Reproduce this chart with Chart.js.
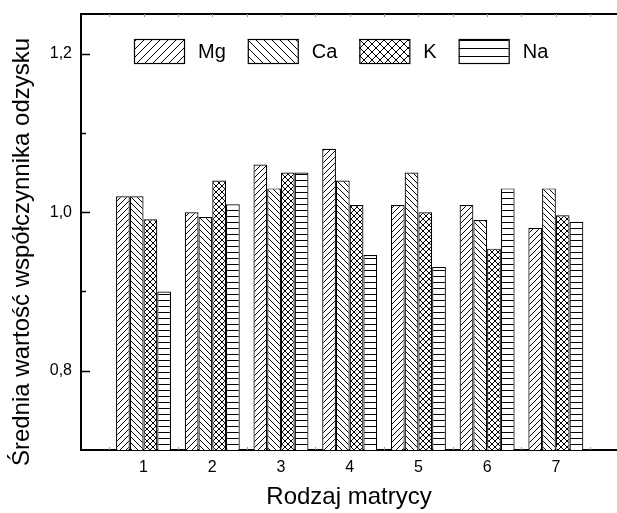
<!DOCTYPE html>
<html>
<head>
<meta charset="utf-8">
<script src="https://cdn.jsdelivr.net/npm/chart.js@4"></script>
<style>
  html, body { margin: 0; padding: 0; background: #fff; }
  #wrap { width: 617px; height: 513px; position: relative; }
</style>
</head>
<body>
<div id="wrap"><canvas id="chart"></canvas></div>
<script>
// Rodzaj matrycy 1..7
const categories = ["1", "2", "3", "4", "5", "6", "7"];
const mg = [1.020, 1.000, 1.060, 1.080, 1.009, 1.009, 0.980];
const ca = [1.020, 0.994, 1.030, 1.040, 1.050, 0.990, 1.030];
const k  = [0.991, 1.040, 1.050, 1.009, 1.000, 0.954, 0.996];
const na = [0.900, 1.010, 1.050, 0.946, 0.931, 1.030, 0.988];

const yTicks = [0.8, 1.0, 1.2];
const yMinorTicks = [0.9, 1.1];
const yTitle = "Średnia wartość współczynnika odzysku";

const FONT = "'Liberation Sans', Arial, sans-serif";

// hatch fills, white ground with black lines
const makePattern = (kind, s) => {
    const c = document.createElement("canvas");
    c.width = s;
    c.height = s;
    const g = c.getContext("2d");
    g.fillStyle = "#fff";
    g.fillRect(0, 0, s, s);
    g.strokeStyle = "#000";
    g.lineWidth = 1;
    g.beginPath();
    if (kind === "fwd" || kind === "cross") {
        g.moveTo(-1, s + 1); g.lineTo(s + 1, -1);
        g.moveTo(-1, 1); g.lineTo(1, -1);
        g.moveTo(s - 1, s + 1); g.lineTo(s + 1, s - 1);
    }
    if (kind === "back" || kind === "cross") {
        g.moveTo(-1, -1); g.lineTo(s + 1, s + 1);
        g.moveTo(-1, s - 1); g.lineTo(1, s + 1);
        g.moveTo(s - 1, -1); g.lineTo(s + 1, 1);
    }
    if (kind === "horiz") {
        g.moveTo(0, 0.5); g.lineTo(s, 0.5);
    }
    g.stroke();
    return g.createPattern(c, "repeat");
};

const toPoints = values => values.map((v, i) => ({x: Number(categories[i]), y: v}));

const series = [
    {label: "Mg", data: mg, kind: "fwd"},
    {label: "Ca", data: ca, kind: "back"},
    {label: "K", data: k, kind: "cross"},
    {label: "Na", data: na, kind: "horiz"}
];

// frame, inward ticks, legend inside the plot and the y title
const frame = {
    id: "frame",
    afterDraw(chart) {
        const {ctx, chartArea: a, scales: {x, y}} = chart;
        ctx.save();
        ctx.strokeStyle = "#000";
        ctx.lineWidth = 2;
        ctx.beginPath();
        ctx.moveTo(a.left - 1, a.top);
        ctx.lineTo(a.right, a.top);
        ctx.stroke();

        ctx.lineWidth = 1.5;
        ctx.beginPath();
        yTicks.forEach(v => {
            const py = Math.round(y.getPixelForValue(v)) + 0.5;
            ctx.moveTo(a.left, py);
            ctx.lineTo(a.left + 9, py);
        });
        yMinorTicks.forEach(v => {
            const py = Math.round(y.getPixelForValue(v)) + 0.5;
            ctx.moveTo(a.left, py);
            ctx.lineTo(a.left + 5, py);
        });
        ctx.stroke();

        ctx.strokeStyle = "#999";
        ctx.lineWidth = 1;
        ctx.beginPath();
        for (let v = 0.5; v < x.max; v += 0.5) {
            if (v < x.min) continue;
            const px = Math.round(x.getPixelForValue(v)) + 0.5;
            ctx.moveTo(px, a.bottom);
            ctx.lineTo(px, a.bottom - 3);
            ctx.moveTo(px, a.top);
            ctx.lineTo(px, a.top + 3);
        }
        ctx.stroke();

        // legend
        const boxW = 50, boxH = 24, gapText = 14, gapItem = 22;
        ctx.font = "20px " + FONT;
        const widths = series.map(s => boxW + gapText + ctx.measureText(s.label).width);
        const total = widths.reduce((p, w) => p + w, 0) + gapItem * (series.length - 1);
        let lx = Math.round((a.left + a.right) / 2 - 8 - total / 2);
        const ly = Math.round(a.top + 25);
        series.forEach((s, i) => {
            ctx.fillStyle = makePattern(s.kind, 8);
            ctx.fillRect(lx, ly, boxW, boxH);
            ctx.strokeStyle = "#000";
            ctx.lineWidth = 1.2;
            ctx.strokeRect(lx + 0.5, ly + 0.5, boxW, boxH);
            ctx.fillStyle = "#000";
            ctx.textAlign = "left";
            ctx.textBaseline = "middle";
            ctx.fillText(s.label, lx + boxW + gapText, ly + boxH / 2 + 1);
            lx += widths[i] + gapItem;
        });

        // y title
        ctx.font = "24px " + FONT;
        ctx.translate(22, 252);
        ctx.rotate(-Math.PI / 2);
        ctx.textAlign = "center";
        ctx.textBaseline = "middle";
        ctx.fillStyle = "#000";
        ctx.fillText(yTitle, 0, 0);
        ctx.restore();
    }
};

new Chart("chart", {
    type: "bar",
    data: {
        datasets: series.map(s => ({
            label: s.label,
            data: toPoints(s.data),
            backgroundColor: makePattern(s.kind, 6),
            borderColor: "#000",
            borderWidth: 1.2,
            categoryPercentage: 0.8,
            barPercentage: 1.0
        }))
    },
    options: {
        responsive: true,
        maintainAspectRatio: false,
        animation: false,
        layout: {padding: {top: 14, right: 0, left: 0, bottom: 0}},
        plugins: {
            tooltip: {enabled: false},
            legend: {display: false}
        },
        scales: {
            x: {
                type: "linear",
                min: 0.09,
                max: 7.89,
                offset: false,
                afterBuildTicks: scale => {
                    scale.ticks = categories.map(c => ({value: Number(c)}));
                },
                afterFit: scale => { scale.height = 63; },
                grid: {display: true, drawOnChartArea: false, drawTicks: false, offset: false},
                border: {display: true, color: "#000", width: 2},
                ticks: {
                    color: "#000",
                    padding: 8,
                    font: {family: FONT, size: 16},
                    callback: v => String(v)
                },
                title: {
                    display: true,
                    text: "Rodzaj matrycy",
                    color: "#000",
                    font: {family: FONT, size: 24},
                    padding: {top: 0, bottom: 1}
                }
            },
            y: {
                min: 0.7,
                max: 1.25,
                afterBuildTicks: scale => {
                    scale.ticks = yTicks.map(v => ({value: v}));
                },
                afterFit: scale => {
                    scale.width = 81;
                    scale.paddingTop = 0;
                    scale.paddingBottom = 0;
                },
                grid: {display: true, drawOnChartArea: false, drawTicks: false},
                border: {display: true, color: "#000", width: 2},
                ticks: {
                    color: "#000",
                    padding: 9,
                    font: {family: FONT, size: 16},
                    callback: v => v.toFixed(1).replace(".", ",")
                }
            }
        }
    },
    plugins: [frame]
});
</script>
</body>
</html>
